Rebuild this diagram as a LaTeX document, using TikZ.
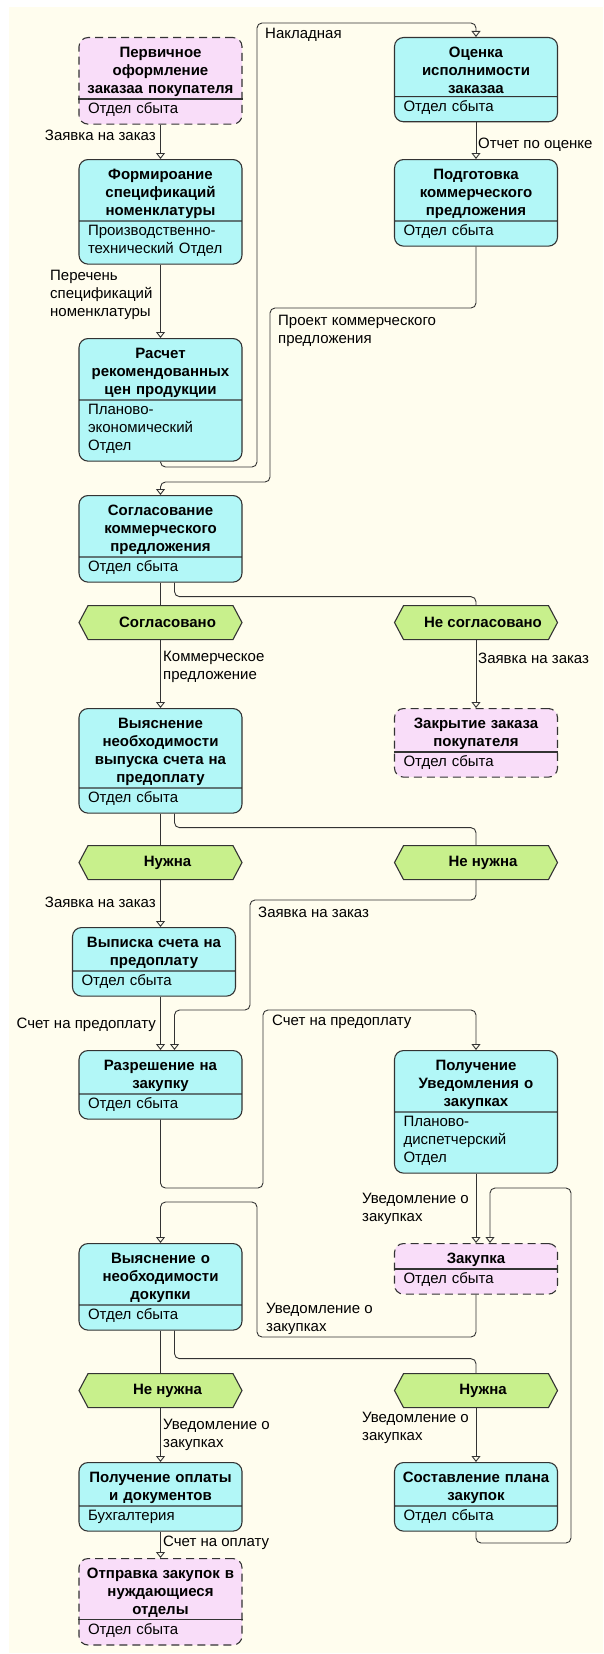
\documentclass[tikz,border=0pt]{standalone}
\usepackage{fontspec}
\setmainfont{Liberation Sans}
\usetikzlibrary{positioning, arrows.meta, shapes.multipart, shapes.symbols}

\definecolor{paper}{HTML}{FFFDEE}
\definecolor{actfill}{HTML}{B2F7F7}
\definecolor{stubfill}{HTML}{F9DDF9}
\definecolor{eventfill}{HTML}{C8F08C}
\definecolor{ink}{HTML}{333333}

\newcommand{\acttitlefont}{\fontsize{15}{18}\selectfont\bfseries}
\newcommand{\conlabelfont}{\fontsize{15}{18}\selectfont}
\newcommand{\act}[2]{\rule{0pt}{16.75pt}#1\rule[-0.75pt]{0pt}{0.75pt}\nodepart{two}\mdseries\raggedright\leftskip=3pt
    \rule{0pt}{11.75pt}#2\rule[-7.75pt]{0pt}{7.75pt}\par}

\begin{document}
\begin{tikzpicture}[x=1pt, y=-1pt,
    actbox/.style={rectangle split, rectangle split parts=2, draw=ink, line width=1.1pt,
        rounded corners=9pt, fill=actfill, text width=151pt, inner xsep=6pt, inner ysep=2.25pt,
        align=center, font=\acttitlefont, anchor=north},
    stubbox/.style={actbox, fill=stubfill, dash pattern=on 8pt off 5pt, rectangle split draw splits=false},
    eventbox/.style={signal, signal to=west and east, signal pointer angle=124, draw=ink,
        line width=1.1pt, fill=eventfill, minimum width=163pt, minimum height=34pt,
        inner sep=0pt, font=\acttitlefont, anchor=north},
    flow/.style={draw=ink, line width=0.9pt, rounded corners=5pt, -{Triangle[length=6pt, width=9pt, fill=paper]}},
    branch/.style={draw=ink, line width=0.9pt, rounded corners=5pt},
    flowlabel/.style={font=\conlabelfont, inner sep=0pt, align=left}
]
\useasboundingbox (0,0) rectangle (603,1654);
\fill[white] (0,0) rectangle (603,1654);
\fill[paper] (9,7) rectangle (603,1653);

\node[stubbox] (perv) at (160.5,37) {\act{Первичное\\оформление\\заказаа покупателя}{Отдел сбыта}};
\node[actbox] (form) at (160.5,159) {\act{Формироание\\спецификаций\\номенклатуры}{Производственно-\\технический Отдел}};
\node[actbox] (rasch) at (160.5,338) {\act{Расчет\\рекомендованных\\цен продукции}{Планово-\\экономический\\Отдел}};
\node[actbox] (soglas) at (160.5,495) {\act{Согласование\\коммерческого\\предложения}{Отдел сбыта}};
\node[actbox] (vyyasn) at (160.5,708) {\act{Выяснение\\необходимости\\выпуска счета на\\предоплату}{Отдел сбыта}};
\node[actbox] (vypis) at (154,927) {\act{Выписка счета на\\предоплату}{Отдел сбыта}};
\node[actbox] (razr) at (160.5,1050) {\act{Разрешение на\\закупку}{Отдел сбыта}};
\node[actbox] (vyyasndok) at (160.5,1243) {\act{Выяснение о\\необходимости\\докупки}{Отдел сбыта}};
\node[actbox] (poluchopl) at (160.5,1462) {\act{Получение оплаты\\и документов}{Бухгалтерия}};
\node[stubbox] (otpr) at (160.5,1558) {\act{Отправка закупок в\\нуждающиеся\\отделы}{Отдел сбыта}};

\node[actbox] (ocenka) at (476,37) {\act{Оценка\\исполнимости\\заказаа}{Отдел сбыта}};
\node[actbox] (podg) at (476,159) {\act{Подготовка\\коммерческого\\предложения}{Отдел сбыта}};
\node[stubbox] (zakr) at (476,708) {\act{Закрытие заказа\\покупателя}{Отдел сбыта}};
\node[actbox] (poluv) at (476,1050) {\act{Получение\\Уведомления о\\закупках}{Планово-\\диспетчерский\\Отдел}};
\node[stubbox] (zakup) at (476,1243) {\act{Закупка}{Отдел сбыта}};
\node[actbox] (sostav) at (476,1462) {\act{Составление плана\\закупок}{Отдел сбыта}};

\foreach \n in {perv, zakr, zakup, otpr}
    \draw[ink, line width=1.1pt] (\n.text split west) -- (\n.text split east);

\node[eventbox] (sogl) at (160.5,605) {\hspace*{14pt}Согласовано};
\node[eventbox] (nesogl) at (476,605) {\hspace*{14pt}Не согласовано};
\node[eventbox] (nuzhnaA) at (160.5,845) {\hspace*{14pt}Нужна};
\node[eventbox] (nenuzhnaA) at (476,845) {\hspace*{14pt}Не нужна};
\node[eventbox] (nenuzhnaB) at (160.5,1373) {\hspace*{14pt}Не нужна};
\node[eventbox] (nuzhnaB) at (476,1373) {\hspace*{14pt}Нужна};

\draw[flow] (perv.south) -- (form.north);
\draw[flow] (form.south) -- (rasch.north);
\draw[flow] (rasch.south) |- (257,467) -- (257,23) -| (ocenka.north);
\draw[flow] (ocenka.south) -- (podg.north);
\draw[flow] (podg.south) |- (270,308) -- (270,482) -| (soglas.north);
\draw[branch] (soglas.south) -- (sogl.north);
\draw[branch] ([xshift=14pt]soglas.south) -- ++(0,14) -| (nesogl.north);
\draw[flow] (sogl.south) -- (vyyasn.north);
\draw[flow] (nesogl.south) -- (zakr.north);
\draw[branch] (vyyasn.south) -- (nuzhnaA.north);
\draw[branch] ([xshift=14pt]vyyasn.south) -- ++(0,14) -| (nenuzhnaA.north);
\draw[flow] (nuzhnaA.south) -- (nuzhnaA.south |- vypis.north);
\draw[flow] (nenuzhnaA.south) |- (250,900) -- (250,1010) -| ([xshift=14pt]razr.north);
\draw[flow] (razr.north |- vypis.south) -- (razr.north);
\draw[flow] (razr.south) |- (263,1188) -- (263,1010) -| (poluv.north);
\draw[flow] (poluv.south) -- (zakup.north);
\draw[flow] (sostav.south) |- (571,1543) -- (571,1188) -| ([xshift=14pt]zakup.north);
\draw[flow] (zakup.south) |- (257,1337) -- (257,1202) -| (vyyasndok.north);
\draw[branch] (vyyasndok.south) -- (nenuzhnaB.north);
\draw[branch] ([xshift=14pt]vyyasndok.south) -- ++(0,28) -| (nuzhnaB.north);
\draw[flow] (nenuzhnaB.south) -- (poluchopl.north);
\draw[flow] (nuzhnaB.south) -- (sostav.north);
\draw[flow] (poluchopl.south) -- (otpr.north);

\node[flowlabel, anchor=east] (lzayavkaA) at (156,135) {Заявка на заказ};
\node[flowlabel, anchor=west] (lperechen) at (50,295) {Перечень\\спецификаций\\номенклатуры};
\node[flowlabel, anchor=west] (lnakl) at (265,35) {Накладная};
\node[flowlabel, anchor=west] (lotchet) at (478,145) {Отчет по оценке};
\node[flowlabel, anchor=west] (lproekt) at (278,331) {Проект коммерческого\\предложения};
\node[flowlabel, anchor=west] (lkomm) at (163,667) {Коммерческое\\предложение};
\node[flowlabel, anchor=west] (lzayavkaB) at (478,658) {Заявка на заказ};
\node[flowlabel, anchor=east] (lzayavkaC) at (156,902) {Заявка на заказ};
\node[flowlabel, anchor=west] (lzayavkaD) at (258,912) {Заявка на заказ};
\node[flowlabel, anchor=east] (lschetA) at (156,1025) {Счет на предоплату};
\node[flowlabel, anchor=west] (lschetB) at (272,1022) {Счет на предоплату};
\node[flowlabel, anchor=west] (luvedA) at (362,1209) {Уведомление о\\закупках};
\node[flowlabel, anchor=west] (luvedB) at (266,1319) {Уведомление о\\закупках};
\node[flowlabel, anchor=west] (luvedC) at (163,1435) {Уведомление о\\закупках};
\node[flowlabel, anchor=west] (luvedD) at (362,1428) {Уведомление о\\закупках};
\node[flowlabel, anchor=west] (lschetC) at (163,1543) {Счет на оплату};
\end{tikzpicture}
\end{document}
